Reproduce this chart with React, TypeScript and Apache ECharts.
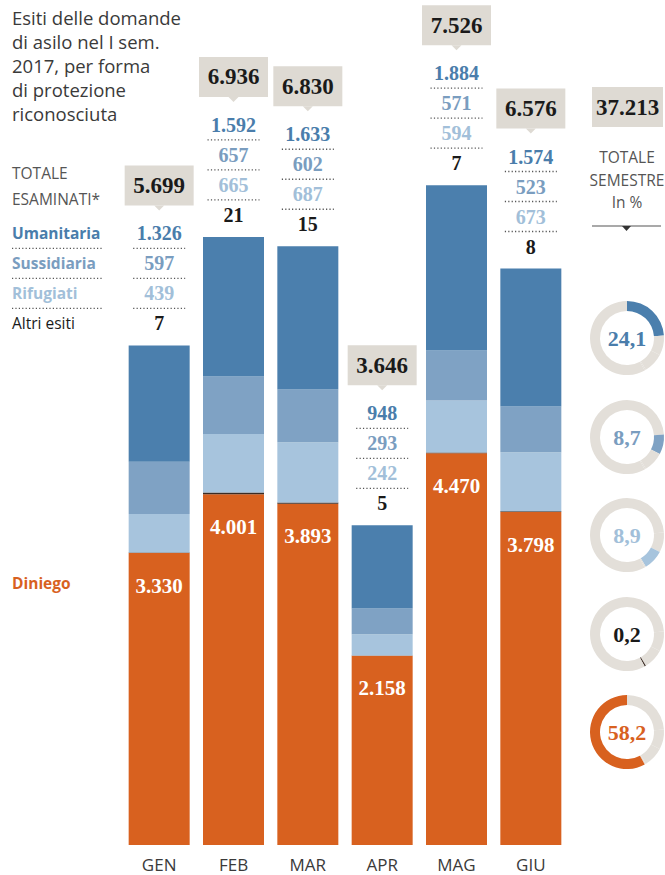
import React, { useEffect, useRef } from 'react';
import * as echarts from 'echarts';

const months = ['GEN', 'FEB', 'MAR', 'APR', 'MAG', 'GIU'];
const diniego = [3330, 4001, 3893, 2158, 4470, 3798];
const altri = [7, 21, 15, 5, 7, 8];
const rifugiati = [439, 665, 687, 242, 594, 673];
const sussidiaria = [597, 657, 602, 293, 571, 523];
const umanitaria = [1326, 1592, 1633, 948, 1884, 1574];

const titleLines = ['Esiti delle domande', 'di asilo nel I sem.', '2017, per forma', 'di protezione', 'riconosciuta'];

const C_UMA = '#4b7fad';
const C_SUS = '#7fa2c4';
const C_RIF = '#a7c4dd';
const C_ALT = '#3a2b24';
const C_DIN = '#d8611f';
const T_UMA = '#4a7dab';
const T_SUS = '#7a9dbf';
const T_RIF = '#a2bfd9';
const BOX = '#dedad3';
const RING = '#e3dfd9';
const SERIF = '"Liberation Serif", "DejaVu Serif", serif';
const SANS = '"Open Sans", "Noto Sans", sans-serif';

const fmt = (n: number) => String(Math.round(n)).replace(/\B(?=(\d{3})+(?!\d))/g, '.');

export default function App() {
  const ref = useRef<HTMLDivElement>(null);
  useEffect(() => {
    if (!ref.current) return;
    const chart = echarts.init(ref.current, undefined, { renderer: 'svg' });

    const totals = months.map((_, i) => diniego[i] + altri[i] + rifugiati[i] + sussidiaria[i] + umanitaria[i]);
    const sum = (a: number[]) => a.reduce((s, v) => s + v, 0);
    const grand = sum(totals);
    const catSums = [sum(umanitaria), sum(sussidiaria), sum(rifugiati), sum(altri), sum(diniego)];
    const catColors = [C_UMA, C_SUS, C_RIF, C_ALT, C_DIN];
    const catText = [T_UMA, T_SUS, T_RIF, '#1a1a1a', C_DIN];
    const donutY = [338, 437, 535, 634, 732];

    const txt = (x: number, y: number, text: string, fill: string, font: string, align = 'center') => ({
      type: 'text',
      x,
      y,
      style: { text, fill, font, align, verticalAlign: 'middle', textAlign: align, textVerticalAlign: 'middle' },
    });
    const dots = (x1: number, x2: number, y: number) => ({
      type: 'line',
      shape: { x1, y1: y, x2, y2: y },
      style: { stroke: '#555', lineWidth: 1.3, lineDash: [1.2, 2.2] },
    });

    const labelOffsets = [-112, -82, -52, -22];
    const dotOffsets = [-97, -67, -37];
    const labelColors = [T_UMA, T_SUS, T_RIF, '#1a1a1a'];
    const legendNames = ['Umanitaria', 'Sussidiaria', 'Rifugiati', 'Altri esiti'];
    const numFont = 'bold 20px ' + SERIF;

    const renderItem = (params: any, api: any) => {
      const i = api.value(0);
      const total = api.value(1);
      const vals = [api.value(2), api.value(3), api.value(4), api.value(5)];
      const p = api.coord([i, total]);
      const cx = p[0];
      const top = p[1];
      const children: any[] = [
        { type: 'rect', shape: { x: cx - 34.5, y: top - 180, width: 69, height: 40 }, style: { fill: BOX } },
        {
          type: 'polygon',
          shape: { points: [[cx - 5, top - 140], [cx + 5, top - 140], [cx, top - 135]] },
          style: { fill: BOX },
        },
        txt(cx, top - 160, fmt(total), '#1a1a1a', 'bold 23px ' + SERIF),
      ];
      vals.forEach((v, k) => {
        children.push(txt(cx, top + labelOffsets[k], fmt(v), labelColors[k], numFont));
      });
      dotOffsets.forEach((o) => children.push(dots(cx - 26, cx + 26, top + o)));
      if (params.dataIndex === 0) {
        children.push(txt(12, top - 172, 'TOTALE', '#555', '15.5px ' + SANS, 'left'));
        children.push(txt(12, top - 146, 'ESAMINATI*', '#555', '15.5px ' + SANS, 'left'));
        legendNames.forEach((n, k) => {
          const bold = k < 3;
          children.push(
            txt(12, top + labelOffsets[k], n, k < 3 ? labelColors[k] : '#1a1a1a', (bold ? 'bold ' : '') + '15.5px ' + SANS, 'left')
          );
        });
        dotOffsets.forEach((o) => children.push(dots(12, 102, top + o)));
        const pd = api.coord([0, diniego[0]]);
        children.push(txt(12, pd[1] + 30, 'Diniego', C_DIN, 'bold 15.5px ' + SANS, 'left'));
      }
      return { type: 'group', children };
    };

    const barBase = { type: 'bar', stack: 'all', barWidth: 61, silent: true };

    const pies = catSums.map((v, k) => ({
      type: 'pie',
      silent: true,
      center: [627, donutY[k]],
      radius: [27, 37],
      startAngle: 90,
      clockwise: true,
      minAngle: 2,
      avoidLabelOverlap: false,
      labelLine: { show: false },
      label: { show: false },
      data: catSums.map((s, j) => ({
        value: s,
        name: String(j),
        itemStyle: { color: j === k ? catColors[k] : RING },
        label:
          j === k
            ? {
                show: true,
                position: 'center',
                formatter: ((v / grand) * 100).toFixed(1).replace('.', ','),
                color: catText[k],
                fontFamily: SERIF,
                fontWeight: 'bold',
                fontSize: 22,
              }
            : { show: false },
      })),
    }));

    const graphic: any[] = [
      {
        type: 'text',
        left: 12,
        top: 5,
        style: { text: titleLines.join('\n'), fill: '#3a3a3a', font: '18.5px ' + SANS, lineHeight: 24 },
      },
      { type: 'rect', shape: { x: 592, y: 87, width: 71, height: 40 }, style: { fill: BOX } },
      txt(627.5, 107, fmt(grand), '#1a1a1a', 'bold 23px ' + SERIF),
      txt(627, 157, 'TOTALE', '#555', '15.5px ' + SANS),
      txt(627, 180, 'SEMESTRE', '#555', '15.5px ' + SANS),
      txt(627, 202, 'In %', '#555', '15.5px ' + SANS),
      { type: 'line', shape: { x1: 592, y1: 226, x2: 661, y2: 226 }, style: { stroke: '#555', lineWidth: 1.2 } },
      { type: 'polygon', shape: { points: [[622, 226], [631, 226], [626.5, 231]] }, style: { fill: '#333' } },
    ];

    chart.setOption({
      animation: false,
      backgroundColor: '#fff',
      grid: { left: 122, width: 446, top: 56, bottom: 30 },
      xAxis: {
        type: 'category',
        data: months,
        axisLine: { show: false },
        axisTick: { show: false },
        axisLabel: { color: '#3a3a3a', fontFamily: SANS, fontSize: 17, margin: 11 },
      },
      yAxis: { type: 'value', min: 0, max: 9000, show: false, splitLine: { show: false } },
      graphic,
      series: [
        {
          ...barBase,
          name: 'Diniego',
          data: diniego,
          itemStyle: { color: C_DIN },
          label: {
            show: true,
            position: 'insideTop',
            distance: 22,
            formatter: (p: any) => fmt(p.value),
            color: '#fff',
            fontFamily: SERIF,
            fontWeight: 'bold',
            fontSize: 21,
          },
        },
        { ...barBase, name: 'Altri esiti', data: altri, itemStyle: { color: C_ALT } },
        { ...barBase, name: 'Rifugiati', data: rifugiati, itemStyle: { color: C_RIF } },
        { ...barBase, name: 'Sussidiaria', data: sussidiaria, itemStyle: { color: C_SUS } },
        { ...barBase, name: 'Umanitaria', data: umanitaria, itemStyle: { color: C_UMA } },
        {
          type: 'custom',
          silent: true,
          z: 10,
          renderItem,
          encode: { x: 0, y: 1 },
          data: months.map((_, i) => [i, totals[i], umanitaria[i], sussidiaria[i], rifugiati[i], altri[i]]),
        },
        ...pies,
      ],
    });
    return () => chart.dispose();
  }, []);

  return (
    <div
      ref={ref}
      style={{ position: 'fixed', left: 0, top: 0, width: 665, height: 875, background: '#fff' }}
    />
  );
}
